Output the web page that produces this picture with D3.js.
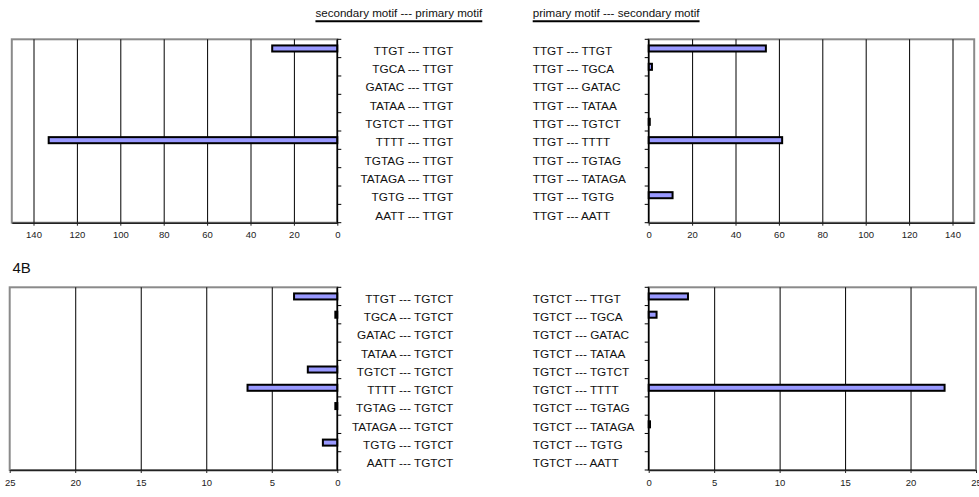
<!DOCTYPE html>
<html>
<head>
<meta charset="utf-8">
<script src="https://cdn.jsdelivr.net/npm/d3@7"></script>
<style>
  html, body { margin: 0; padding: 0; background: #fff; }
  svg { display: block; }
  text { font-family: "Liberation Sans", Arial, sans-serif; }
</style>
</head>
<body>
<svg id="chart" width="979" height="497"></svg>
<script>
// Motifs paired with the primary motif in each panel (top to bottom)
const secondaryMotifs = ["TTGT", "TGCA", "GATAC", "TATAA", "TGTCT", "TTTT", "TGTAG", "TATAGA", "TGTG", "AATT"];
const primaryTop = "TTGT";
const primaryBottom = "TGTCT";

// Counts for each pairing
const topLeftValues     = [30, 0, 0, 0, 0, 133, 0, 0, 0, 0];        // secondary --- TTGT
const topRightValues    = [54, 1.5, 0, 0, 0.5, 61.5, 0, 0, 11, 0];  // TTGT --- secondary
const bottomLeftValues  = [3.3, 0.15, 0, 0, 2.25, 6.85, 0.15, 0, 1.1, 0]; // secondary --- TGTCT
const bottomRightValues = [3.0, 0.6, 0, 0, 0, 22.6, 0, 0.1, 0, 0];  // TGTCT --- secondary

// Value-axis ticks
const topTicks = [0, 20, 40, 60, 80, 100, 120, 140];
const bottomTicks = [0, 5, 10, 15, 20, 25];
const topMax = 150;
const bottomMax = 25;

const svg = d3.select("#chart");

const panels = [
  { values: topLeftValues, labels: secondaryMotifs.map(m => `${m} --- ${primaryTop}`),
    side: "left", zeroX: 337.3, farX: 11.8, y0: 39.3, y1: 222.7, max: topMax, ticks: topTicks, labelX: 453.3 },
  { values: topRightValues, labels: secondaryMotifs.map(m => `${primaryTop} --- ${m}`),
    side: "right", zeroX: 648.7, farX: 974.2, y0: 39.3, y1: 222.7, max: topMax, ticks: topTicks, labelX: 532.7 },
  { values: bottomLeftValues, labels: secondaryMotifs.map(m => `${m} --- ${primaryBottom}`),
    side: "left", zeroX: 337.3, farX: 9.7, y0: 287.3, y1: 470, max: bottomMax, ticks: bottomTicks, labelX: 453.3 },
  { values: bottomRightValues, labels: secondaryMotifs.map(m => `${primaryBottom} --- ${m}`),
    side: "right", zeroX: 648.7, farX: 976, y0: 287.3, y1: 470, max: bottomMax, ticks: bottomTicks, labelX: 532.7 }
];

panels.forEach(p => {
  const g = svg.append("g");
  const x = d3.scaleLinear().domain([0, p.max]).range([p.zeroX, p.farX]);
  const y = d3.scaleBand().domain(d3.range(p.values.length))
    .range([p.y0, p.y1]).paddingInner(0.67).paddingOuter(0.335);
  const step = y.step();
  const left = Math.min(p.zeroX, p.farX), right = Math.max(p.zeroX, p.farX);

  // plot-area frame
  g.append("rect")
    .attr("x", left).attr("y", p.y0)
    .attr("width", right - left).attr("height", p.y1 - p.y0)
    .attr("fill", "none").attr("stroke", "#8a8a8a").attr("stroke-width", 2);

  // vertical gridlines
  const grid = d3.axisBottom(x)
    .tickValues(p.ticks.filter(t => t > 0 && t < p.max))
    .tickSize(-(p.y1 - p.y0)).tickFormat("");
  g.append("g").attr("transform", `translate(0,${p.y1})`).call(grid)
    .call(a => a.select(".domain").remove())
    .call(a => a.selectAll("line").attr("stroke", "#000").attr("stroke-width", 1));

  // value axis
  const axis = d3.axisBottom(x).tickValues(p.ticks).tickSize(3).tickSizeOuter(0).tickPadding(6);
  g.append("g").attr("transform", `translate(0,${p.y1})`).call(axis)
    .call(a => a.select(".domain").attr("stroke", "#222").attr("stroke-width", 1.5))
    .call(a => a.selectAll("line").attr("stroke", "#222").attr("stroke-width", 1))
    .call(a => a.selectAll("text")
      .attr("font-size", "9.5px").attr("fill", "#222")
      .attr("font-family", '"Liberation Sans", Arial, sans-serif'));

  // bars
  g.selectAll("rect.bar")
    .data(p.values.map((v, i) => ({ v, i })).filter(d => d.v > 0))
    .join("rect").attr("class", "bar")
    .attr("x", d => Math.min(x(0), x(d.v)))
    .attr("width", d => Math.abs(x(d.v) - x(0)))
    .attr("y", d => y(d.i))
    .attr("height", y.bandwidth())
    .attr("fill", "#9999ff").attr("stroke", "#000").attr("stroke-width", 2);

  // category axis with tick marks between categories
  g.append("line")
    .attr("x1", p.zeroX).attr("x2", p.zeroX).attr("y1", p.y0).attr("y2", p.y1)
    .attr("stroke", "#000").attr("stroke-width", 1.5);
  const dir = p.side === "left" ? 1 : -1;
  g.selectAll("line.cat-tick")
    .data(d3.range(p.values.length + 1))
    .join("line").attr("class", "cat-tick")
    .attr("x1", p.zeroX).attr("x2", p.zeroX + dir * 4)
    .attr("y1", i => p.y0 + i * step).attr("y2", i => p.y0 + i * step)
    .attr("stroke", "#000").attr("stroke-width", 1);

  // pair labels
  g.selectAll("text.pair")
    .data(p.labels)
    .join("text").attr("class", "pair")
    .attr("x", p.labelX)
    .attr("y", (d, i) => y(i) + y.bandwidth() / 2 + 6.3)
    .attr("text-anchor", p.side === "left" ? "end" : "start")
    .attr("font-size", "11.8px").attr("fill", "#111")
    .text(d => d);
});

// column headers with underline
const headers = [
  { text: "secondary motif --- primary motif", x: 482.3, anchor: "end" },
  { text: "primary motif --- secondary motif", x: 532.7, anchor: "start" }
];
headers.forEach(h => {
  const t = svg.append("text")
    .attr("x", h.x).attr("y", 16.7)
    .attr("text-anchor", h.anchor)
    .attr("font-size", "11.6px").attr("fill", "#111")
    .text(h.text);
  const w = t.node().getComputedTextLength();
  const x1 = h.anchor === "end" ? h.x - w : h.x;
  svg.append("line")
    .attr("x1", x1).attr("x2", x1 + w)
    .attr("y1", 21.3).attr("y2", 21.3)
    .attr("stroke", "#000").attr("stroke-width", 2);
});

// panel tag
svg.append("text")
  .attr("x", 12.5).attr("y", 272.7)
  .attr("font-family", '"DejaVu Sans", Verdana, sans-serif')
  .attr("font-size", "15px").attr("fill", "#111")
  .text("4B");
</script>
</body>
</html>
